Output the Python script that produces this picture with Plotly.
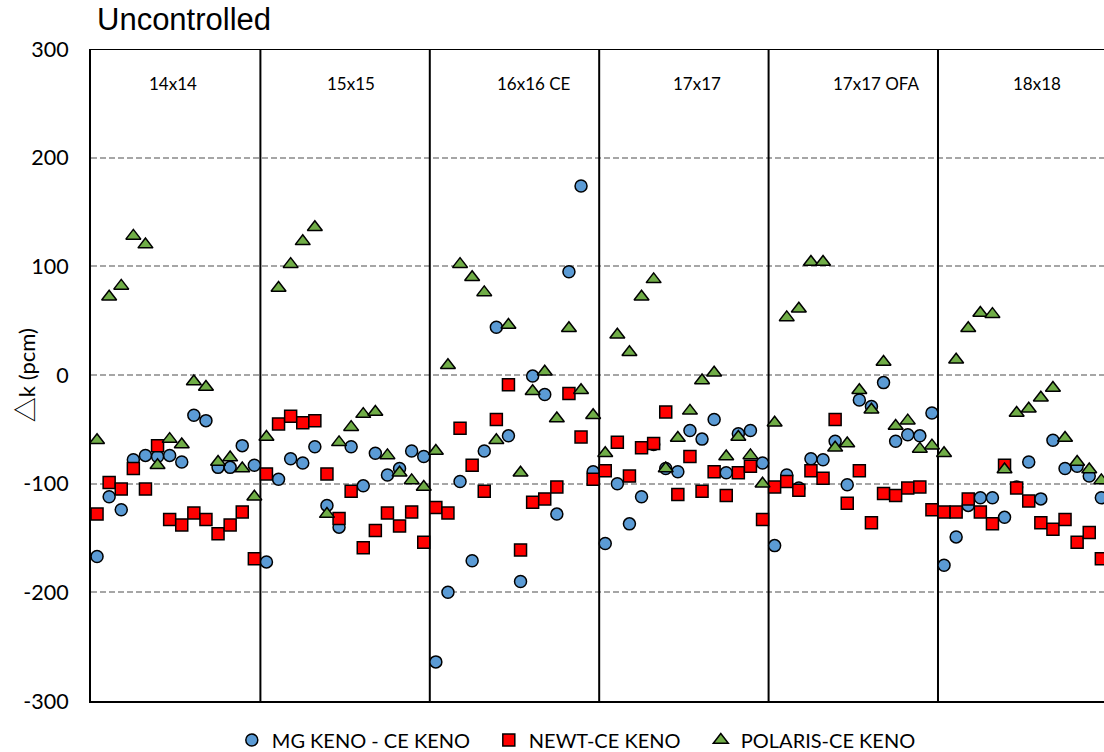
import plotly.graph_objects as go

# Fuel-assembly families, 14 cases each
groups = ["14x14", "15x15", "16x16 CE", "17x17", "17x17 OFA", "18x18"]
cases_per_group = 14

# Δk (pcm) relative to CE KENO, listed family by family
mg_keno = [
    -167, -112, -124, -78, -74, -75, -74, -80, -37, -42, -85, -85, -65, -83,
    -172, -96, -77, -81, -66, -120, -140, -66, -102, -72, -92, -86, -70, -75,
    -264, -200, -98, -171, -70, 44, -56, -190, -1, -18, -128, 95, 174, -89,
    -155, -100, -137, -112, -64, -86, -89, -51, -59, -41, -90, -54, -51, -81,
    -157, -92, -104, -77, -78, -61, -101, -23, -29, -7, -61, -55, -56, -35,
    -175, -149, -120, -113, -113, -131, -103, -80, -114, -60, -86, -84, -93, -113,
]
newt = [
    -128, -99, -105, -86, -105, -65, -133, -138, -127, -133, -146, -138, -126, -169,
    -91, -45, -38, -44, -42, -91, -132, -107, -159, -143, -127, -139, -126, -154,
    -122, -127, -49, -83, -107, -41, -9, -161, -117, -114, -103, -17, -57, -96,
    -88, -62, -93, -67, -63, -34, -110, -75, -107, -89, -111, -90, -84, -133,
    -103, -98, -106, -88, -95, -41, -118, -88, -136, -109, -111, -104, -103, -124,
    -126, -126, -114, -126, -137, -83, -104, -116, -136, -142, -133, -154, -145, -169,
]
polaris = [
    -60, 72, 82, 128, 120, -83, -59, -64, -6, -11, -80, -76, -86, -112,
    -57, 80, 102, 123, 136, -128, -62, -48, -36, -34, -74, -90, -97, -103,
    -70, 9, 102, 90, 76, -60, 46, -90, -15, 3, -40, 43, -14, -37,
    -72, 37, 21, 72, 88, -86, -58, -33, -5, 2, -75, -57, -74, -100,
    -44, 53, 61, 104, 104, -67, -63, -14, -32, 12, -47, -42, -68, -65,
    -72, 14, 43, 57, 56, -87, -35, -31, -21, -12, -58, -80, -87, -97,
]
y_ticks = [-300, -200, -100, 0, 100, 200, 300]
y_tick_text = ["-300", "-200", "-100", "0", "100", "200", "300"]

case_index = list(range(len(mg_keno)))

LABEL_FONT = "Lato, Carlito, Calibri, sans-serif"

fig = go.Figure()
series = [
    ("MG KENO - CE KENO", mg_keno, "circle", "#5B9BD5", 12, 212),
    ("NEWT-CE KENO", newt, "square", "#FF0000", 12, 167),
    ("POLARIS-CE KENO", polaris, "triangle-up", "#70AD47", 13, 190),
]
for name, values, symbol, color, size, entry_w in series:
    fig.add_trace(go.Scatter(
        x=case_index, y=values, mode="markers", name=name,
        marker=dict(symbol=symbol, color=color, size=size,
                    line=dict(color="black", width=1.5)),
        legendwidth=entry_w,
    ))

# Family separators and top frame line
shapes = []
for g in range(1, len(groups) + 1):
    shapes.append(dict(type="line", xref="x", yref="y",
                       x0=g * cases_per_group - 0.5, x1=g * cases_per_group - 0.5,
                       y0=-300, y1=300, line=dict(color="black", width=2),
                       layer="between"))
shapes.append(dict(type="line", xref="paper", yref="y", x0=0, x1=1, y0=300, y1=300,
                   line=dict(color="black", width=2), layer="between"))

# Family captions sit in hand-placed text boxes near the top of each panel
label_shift = [-3, 6, 20, 13, 23, 14]
annotations = []
for g, label in enumerate(groups):
    annotations.append(dict(x=g * cases_per_group + (cases_per_group - 1) / 2, y=268,
                            xref="x", yref="y", text=label, showarrow=False,
                            xshift=label_shift[g],
                            font=dict(family=LABEL_FONT, size=17, color="black")))
annotations.append(dict(x=-0.066, y=0.5, xref="paper", yref="paper",
                        text="<span style='font-family:Noto Sans CJK JP;font-size:25px'>△</span>k (pcm)",
                        textangle=-90, showarrow=False,
                        xanchor="center", yanchor="middle",
                        font=dict(family=LABEL_FONT, size=22, color="black")))

fig.update_layout(
    width=1104, height=752,
    margin=dict(l=91, r=0, t=49, b=51),
    paper_bgcolor="white", plot_bgcolor="white",
    title=dict(text="Uncontrolled", x=97 / 1104, xanchor="left", xref="container",
               y=1 - 19 / 752, yanchor="middle", yref="container",
               font=dict(family="Liberation Sans, Arial, sans-serif", size=31, color="black")),
    shapes=shapes,
    annotations=annotations,
    showlegend=True,
    legend=dict(orientation="h", x=0.139, xanchor="left",
                y=1 - 740 / 752, yanchor="middle", yref="container",
                font=dict(family=LABEL_FONT, size=20, color="black"),
                bgcolor="rgba(0,0,0,0)"),
    xaxis=dict(range=[-0.5, 83.22], showticklabels=False, showgrid=False,
               zeroline=False, showline=True, linecolor="black", linewidth=2,
               ticks=""),
    yaxis=dict(range=[-300, 300], tickvals=y_ticks, ticktext=y_tick_text,
               showgrid=True, gridcolor="#A6A6A6", gridwidth=1.5, griddash="6px,3px",
               zeroline=False, showline=True, linecolor="black", linewidth=2,
               ticks="", ticklabelstandoff=16,
               tickfont=dict(family=LABEL_FONT, size=21.5, color="black")),
)

fig.write_html("out.html")
